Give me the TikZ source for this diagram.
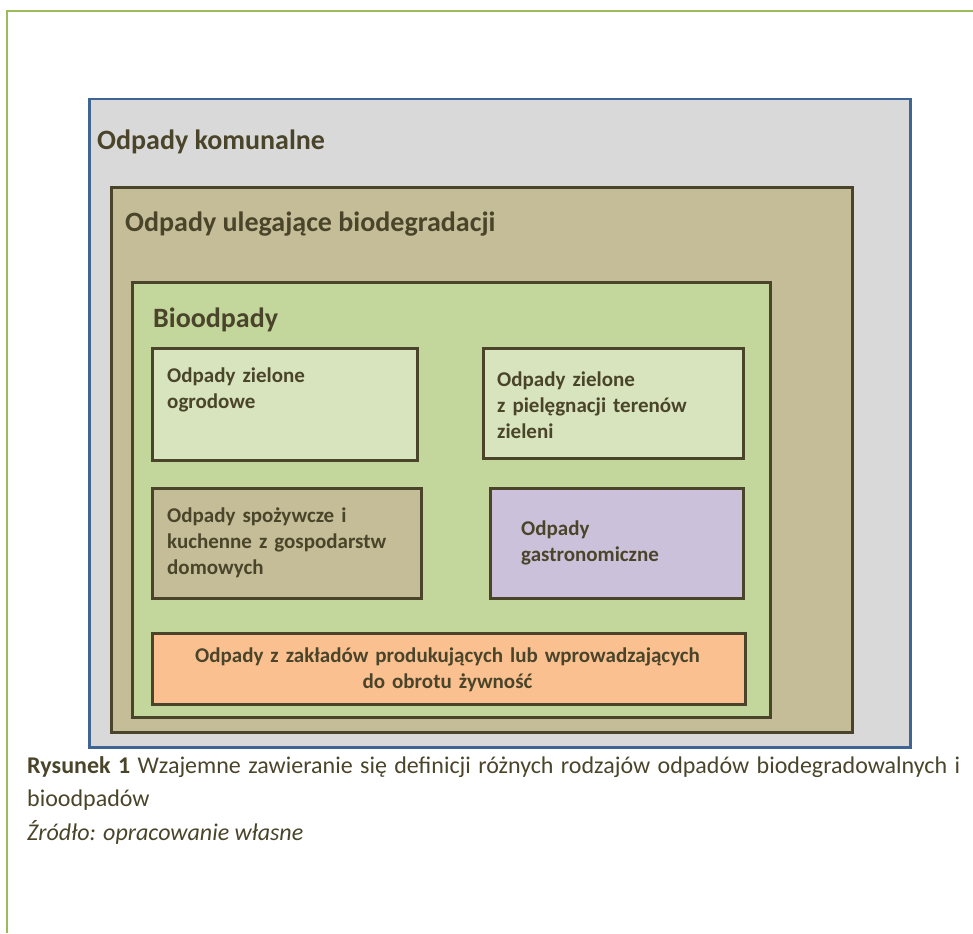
\documentclass[tikz,border=0pt]{standalone}
\usepackage{fontspec}
\setmainfont{Carlito}
\usetikzlibrary{positioning}
\definecolor{leafline}{HTML}{9BBB59}
\definecolor{steel}{HTML}{3F6595}
\definecolor{mist}{HTML}{D9D9D9}
\definecolor{khaki}{HTML}{C4BD97}
\definecolor{ink}{HTML}{4A452A}
\definecolor{leaf}{HTML}{C3D69B}
\definecolor{mint}{HTML}{D7E4BD}
\definecolor{lilac}{HTML}{CCC1DA}
\definecolor{peach}{HTML}{FAC090}

\begin{document}
\begin{tikzpicture}[x=1pt,y=-1pt,
  shell/.style={draw=ink,line width=3pt,anchor=north west,inner sep=0pt},
  cell/.style={draw=ink,line width=3pt,anchor=north west,inner sep=0pt},
  head/.style={anchor=base west,inner sep=0pt,text=ink,font=\fontsize{28}{34}\selectfont\bfseries},
  entry/.style={anchor=base west,inner sep=0pt,text=ink,align=left,font=\fontsize{21}{26}\selectfont\bfseries},
  note/.style={anchor=base west,inner sep=0pt,text=ink,font=\fontsize{24}{33.5}\selectfont}]
  \useasboundingbox (0,0) rectangle (973,933);
  % page frame
  \draw[leafline,line width=2pt] (973,11) -- (7,11) -- (7,933);
  % nested sets
  \node[shell,draw=steel,line width=2.5pt,fill=mist,minimum width=821pt,minimum height=648pt] (kom) at (88,98) {};
  \node[shell,fill=khaki,minimum width=741pt,minimum height=545pt] (bio) at (110,186) {};
  \node[shell,fill=leaf,minimum width=638pt,minimum height=435pt] (bo) at (131,281) {};
  \node[head] (komT) at (97,150) {Odpady komunalne};
  \node[head] (bioT) at (125,231) {Odpady ulegające biodegradacji};
  \node[head] (boT) at (153,327) {Bioodpady};
  % inner boxes
  \node[cell,fill=mint,minimum width=265pt,minimum height=112pt] (b1) at (151,347) {};
  \node[cell,fill=mint,minimum width=260pt,minimum height=110pt] (b2) at (482,347) {};
  \node[cell,fill=khaki,minimum width=269pt,minimum height=110pt] (b3) at (151,487) {};
  \node[cell,fill=lilac,minimum width=253pt,minimum height=110pt] (b4) at (489,487) {};
  \node[cell,fill=peach,minimum width=593pt,minimum height=71pt] (b5) at (151,632) {};
  \node[entry,text width=240pt] (t1) at (167,382) {Odpady zielone\\ogrodowe};
  \node[entry,text width=240pt] (t2) at (497,386) {Odpady zielone\\z pielęgnacji terenów\\zieleni};
  \node[entry,text width=245pt] (t3) at (167,522) {Odpady spożywcze i\\kuchenne z gospodarstw\\domowych};
  \node[entry,text width=215pt] (t4) at (521,535) {Odpady\\gastronomiczne};
  \node[entry,anchor=base,text width=580pt,align=center] (t5) at (447.5,662) {Odpady z zakładów produkujących lub wprowadzających\\do obrotu żywność};
  % caption
  \node[note,text width=933pt,align=justify] (cap) at (27,773) {\textbf{Rysunek 1} Wzajemne zawieranie się definicji różnych rodzajów odpadów biodegradowalnych i\linebreak bioodpadów\\\textit{Źródło: opracowanie własne}};
\end{tikzpicture}
\end{document}
